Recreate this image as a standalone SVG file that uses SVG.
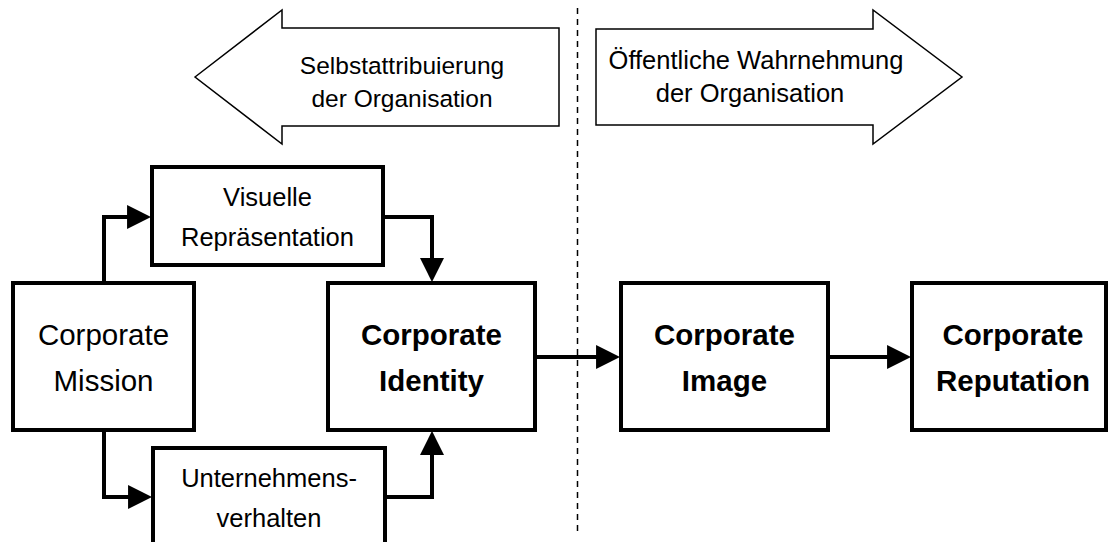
<svg xmlns="http://www.w3.org/2000/svg" width="1110" height="542" viewBox="0 0 1110 542">
  <style>
    .box { fill: #ffffff; stroke: #000000; stroke-width: 4; }
    .big { fill: #ffffff; stroke: #000000; stroke-width: 1.5; stroke-linejoin: miter; }
    .conn { fill: none; stroke: #000000; stroke-width: 4; stroke-linejoin: miter; }
    .divider { fill: none; stroke: #000000; stroke-width: 1.5; stroke-dasharray: 6 5; }
    text { font-family: "Liberation Sans", Arial, sans-serif; fill: #000000; text-anchor: middle; }
    .sm { font-size: 24.5px; }
    .md { font-size: 25.5px; }
    .lg { font-size: 29.5px; }
    .b { font-weight: bold; }
  </style>
  <defs>
    <marker id="head" markerUnits="userSpaceOnUse" markerWidth="24" markerHeight="24"
            viewBox="0 0 22 22" refX="10" refY="11" orient="auto">
      <path d="M0,0 L22,11 L0,22 z" fill="#000000"/>
    </marker>
  </defs>

  <rect width="1110" height="542" fill="#ffffff"/>

  <!-- dashed divider between self view and public view -->
  <line class="divider" x1="577.5" y1="8" x2="577.5" y2="533"/>

  <!-- block arrows -->
  <g id="self-attribution">
    <polygon class="big" points="195,77 282,10 282,28 559,28 559,126 282,126 282,144"/>
    <text class="sm" x="402" y="74">Selbstattribuierung</text>
    <text class="sm" x="402" y="107">der Organisation</text>
  </g>
  <g id="public-perception">
    <polygon class="big" points="596,29 873,29 873,10 962,77 873,144 873,125 596,125"/>
    <text class="md" x="756" y="69">Öffentliche Wahrnehmung</text>
    <text class="md" x="750" y="102">der Organisation</text>
  </g>

  <!-- connectors -->
  <g id="connectors">
    <path class="conn" d="M104,283 V217 H138" marker-end="url(#head)"/>
    <path class="conn" d="M383,217 H432 V269" marker-end="url(#head)"/>
    <path class="conn" d="M104,430 V497 H139" marker-end="url(#head)"/>
    <path class="conn" d="M385,497 H432 V444" marker-end="url(#head)"/>
    <path class="conn" d="M535,357 H607" marker-end="url(#head)"/>
    <path class="conn" d="M828,357 H898" marker-end="url(#head)"/>
  </g>

  <!-- nodes -->
  <g id="corporate-mission">
    <rect class="box" x="13" y="283" width="181" height="147"/>
    <text class="lg" x="103.5" y="345">Corporate</text>
    <text class="lg" x="103.5" y="391">Mission</text>
  </g>
  <g id="visuelle-repraesentation">
    <rect class="box" x="152" y="167" width="231" height="98"/>
    <text class="md" x="267.5" y="206">Visuelle</text>
    <text class="md" x="267.5" y="246">Repräsentation</text>
  </g>
  <g id="unternehmensverhalten">
    <rect class="box" x="153" y="448" width="232" height="120"/>
    <text class="md" x="269" y="487">Unternehmens-</text>
    <text class="md" x="269" y="527">verhalten</text>
  </g>
  <g id="corporate-identity">
    <rect class="box" x="328" y="283" width="207" height="147"/>
    <text class="lg b" x="431.5" y="345">Corporate</text>
    <text class="lg b" x="431.5" y="391">Identity</text>
  </g>
  <g id="corporate-image">
    <rect class="box" x="621" y="283" width="207" height="147"/>
    <text class="lg b" x="724.5" y="345">Corporate</text>
    <text class="lg b" x="724.5" y="391">Image</text>
  </g>
  <g id="corporate-reputation">
    <rect class="box" x="912" y="283" width="194" height="147"/>
    <text class="lg b" x="1013" y="345">Corporate</text>
    <text class="lg b" x="1013" y="391">Reputation</text>
  </g>
</svg>
